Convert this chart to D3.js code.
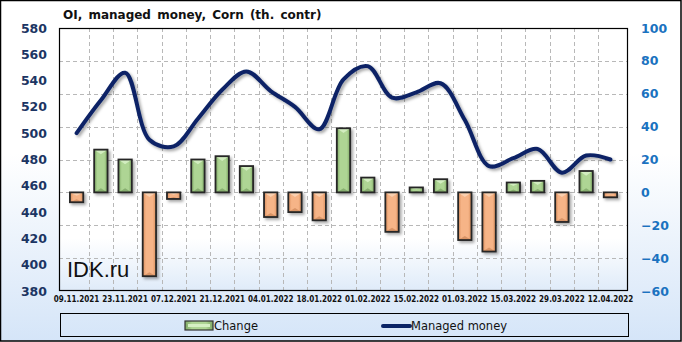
<!DOCTYPE html>
<html><head><meta charset="utf-8">
<script src="https://cdn.jsdelivr.net/npm/d3@7"></script>
<style>html,body{margin:0;padding:0;background:#fff;}svg{display:block;}</style>
</head><body>
<script>
const dates = ["09.11.2021","16.11.2021","23.11.2021","30.11.2021","07.12.2021","14.12.2021","21.12.2021","28.12.2021","04.01.2022","11.01.2022","18.01.2022","25.01.2022","01.02.2022","08.02.2022","15.02.2022","22.02.2022","01.03.2022","08.03.2022","15.03.2022","22.03.2022","29.03.2022","05.04.2022","12.04.2022"];
const change = [-6, 26, 20, -51, -4, 20, 22, 16, -15, -12, -17, 39, 9, -24, 3, 8, -29, -36, 6, 7, -18, 13, -3];
const managedMoney = [500, 525, 546, 495, 490, 511, 533, 547, 532, 520, 503, 541, 551, 527, 531, 538, 510, 475, 481, 488, 470, 483, 480];
const leftTicks = [380,400,420,440,460,480,500,520,540,560,580];
const rightTicks = [-60,-40,-20,0,20,40,60,80,100];
const title = "OI, managed money, Corn (th. contr)";

const W = 682, H = 342;
const m = {l:59, r:628, t:28, b:291};
const svg = d3.select("body").append("svg").attr("width", W).attr("height", H);
const defs = svg.append("defs");

const bg = defs.append("linearGradient").attr("id","bg").attr("x1",0).attr("y1",0).attr("x2",0).attr("y2",1);
bg.append("stop").attr("offset","0%").attr("stop-color","#ffffff");
bg.append("stop").attr("offset","45%").attr("stop-color","#ffffff");
bg.append("stop").attr("offset","100%").attr("stop-color","#d5e5f8");
const pbg = defs.append("linearGradient").attr("id","pbg").attr("x1",0).attr("y1",0).attr("x2",0).attr("y2",1);
pbg.append("stop").attr("offset","0%").attr("stop-color","#ffffff");
pbg.append("stop").attr("offset","80%").attr("stop-color","#ffffff");
pbg.append("stop").attr("offset","100%").attr("stop-color","#dfebf9");

function barGrad(id, edge, mid){
  const g = defs.append("linearGradient").attr("id",id).attr("x1",0).attr("y1",0).attr("x2",1).attr("y2",0);
  g.append("stop").attr("offset","0%").attr("stop-color",edge);
  g.append("stop").attr("offset","25%").attr("stop-color",mid);
  g.append("stop").attr("offset","75%").attr("stop-color",mid);
  g.append("stop").attr("offset","100%").attr("stop-color",edge);
}
barGrad("gpos","#7ea864","#aed594");
barGrad("gneg","#d98e5c","#f6b487");

const sh = defs.append("filter").attr("id","shadow").attr("x","-30%").attr("y","-30%").attr("width","160%").attr("height","160%");
sh.append("feDropShadow").attr("dx",2).attr("dy",2).attr("stdDeviation",1.5).attr("flood-color","#000").attr("flood-opacity",0.35);

svg.append("rect").attr("x",0.5).attr("y",0.5).attr("width",W-1.5).attr("height",H-1.5)
  .attr("fill","url(#bg)").attr("stroke","#000").attr("stroke-width",1.5);

svg.append("rect").attr("x",m.l).attr("y",m.t).attr("width",m.r-m.l).attr("height",m.b-m.t).attr("fill","url(#pbg)");

const x = d3.scaleBand().domain(dates).range([m.l, m.r]).padding(0.45);
const yL = d3.scaleLinear().domain([380,580]).range([m.b, m.t]);
const yR = d3.scaleLinear().domain([-60,100]).range([m.b, m.t]);

// grid
const grid = svg.append("g").attr("stroke","#b8b8b8").attr("stroke-dasharray","4,3").attr("stroke-width",1);
rightTicks.slice(1,-1).forEach(t => {
  grid.append("line").attr("x1",m.l).attr("x2",m.r).attr("y1",Math.round(yR(t))+0.5).attr("y2",Math.round(yR(t))+0.5);
});
dates.slice(1).forEach(d => {
  const xb = Math.round(x(d) - (x.step()-x.bandwidth())/2)+0.5;
  grid.append("line").attr("x1",xb).attr("x2",xb).attr("y1",m.t).attr("y2",m.b);
});

// bars
const bars = svg.append("g").attr("filter","url(#shadow)");
change.forEach((v,i) => {
  const x0 = x(dates[i]), bw = x.bandwidth();
  const y0 = yR(0), y1 = yR(v);
  const top = Math.min(y0,y1), h = Math.max(Math.abs(y1-y0), 4);
  const g = bars.append("g");
  g.append("rect").attr("x",x0).attr("y",top).attr("width",bw).attr("height",h)
    .attr("fill", v>=0 ? "url(#gpos)" : "url(#gneg)");
  const tri = Math.min(bw/2, h/2);
  const light = v>=0 ? "#d6f0c4" : "#fbd3b5";
  g.append("path").attr("d",`M${x0},${top}L${x0+bw},${top}L${x0+bw/2},${top+tri*0.7}Z`).attr("fill",light).attr("opacity",0.9);
  const dark = v>=0 ? "#6e9656" : "#c77f50";
  g.append("path").attr("d",`M${x0},${top+h}L${x0+bw},${top+h}L${x0+bw/2},${top+h-tri*0.6}Z`).attr("fill",dark).attr("opacity",0.6);
  g.append("rect").attr("x",x0).attr("y",top).attr("width",bw).attr("height",h)
    .attr("fill","none").attr("stroke","#262626").attr("stroke-width",1.8);
});

// line
const line = d3.line().x((d,i)=>x(dates[i])+x.bandwidth()/2).y(d=>yL(d)).curve(d3.curveCatmullRom.alpha(0.5));
svg.append("path").datum(managedMoney).attr("d",line).attr("fill","none")
  .attr("stroke","#0b2466").attr("stroke-width",4).attr("stroke-linecap","round").attr("filter","url(#shadow)");

// border
svg.append("rect").attr("x",m.l+0.5).attr("y",m.t+0.5).attr("width",m.r-m.l-1).attr("height",m.b-m.t-1)
  .attr("fill","none").attr("stroke","#000").attr("stroke-width",1.2);

// axes
const axL = svg.append("g").attr("transform",`translate(${m.l-12},0)`)
  .call(d3.axisLeft(yL).tickValues(leftTicks).tickSize(0).tickPadding(0));
axL.select(".domain").remove();
axL.selectAll("text").attr("font-family","DejaVu Sans, Verdana, sans-serif").attr("font-size","12.5px").attr("font-weight","bold").attr("fill","#1c3563");

const axR = svg.append("g").attr("transform",`translate(${m.r+13},0)`)
  .call(d3.axisRight(yR).tickValues(rightTicks).tickSize(0).tickPadding(0));
axR.select(".domain").remove();
axR.selectAll("text").attr("font-family","DejaVu Sans, Verdana, sans-serif").attr("font-size","12.5px").attr("font-weight","bold").attr("fill","#1a72c0");

const axB = svg.append("g").attr("transform",`translate(0,${m.b+5})`)
  .call(d3.axisBottom(x).tickValues(dates.filter((d,i)=>i%2===0)).tickSize(0).tickPadding(0));
axB.select(".domain").remove();
axB.selectAll("text").attr("font-family","DejaVu Sans Condensed, DejaVu Sans, sans-serif").attr("font-size","8px").attr("font-weight","bold").attr("fill","#111");

// title
svg.append("text").attr("x",63).attr("y",19).text(title)
  .attr("font-family","DejaVu Sans, Verdana, sans-serif").attr("font-size","12px").attr("font-weight","bold").attr("fill","#111")
  .attr("word-spacing","2px");

// watermark
svg.append("text").attr("x",67).attr("y",277).text("IDK.ru")
  .attr("font-family","Liberation Sans, Arial, sans-serif").attr("font-size","22px").attr("fill","#111");

// legend
svg.append("rect").attr("x",60.5).attr("y",313.5).attr("width",568).attr("height",23).attr("fill","none").attr("stroke","#000").attr("stroke-width",1);
const lg = svg.append("g");
lg.append("rect").attr("x",185).attr("y",321).attr("width",28).attr("height",9).attr("fill","url(#gpos)").attr("stroke","#333").attr("stroke-width",1.2);
lg.append("rect").attr("x",188).attr("y",324).attr("width",22).attr("height",3).attr("fill","#d6f0c4");
lg.append("text").attr("x",214).attr("y",330).text("Change")
  .attr("font-family","DejaVu Sans, Verdana, sans-serif").attr("font-size","11.5px").attr("fill","#111");
lg.append("line").attr("x1",383).attr("x2",410).attr("y1",326).attr("y2",326).attr("stroke","#0b2466").attr("stroke-width",4).attr("stroke-linecap","round");
lg.append("text").attr("x",411).attr("y",330).text("Managed money")
  .attr("font-family","DejaVu Sans, Verdana, sans-serif").attr("font-size","11.5px").attr("fill","#111");
</script>
</body></html>
